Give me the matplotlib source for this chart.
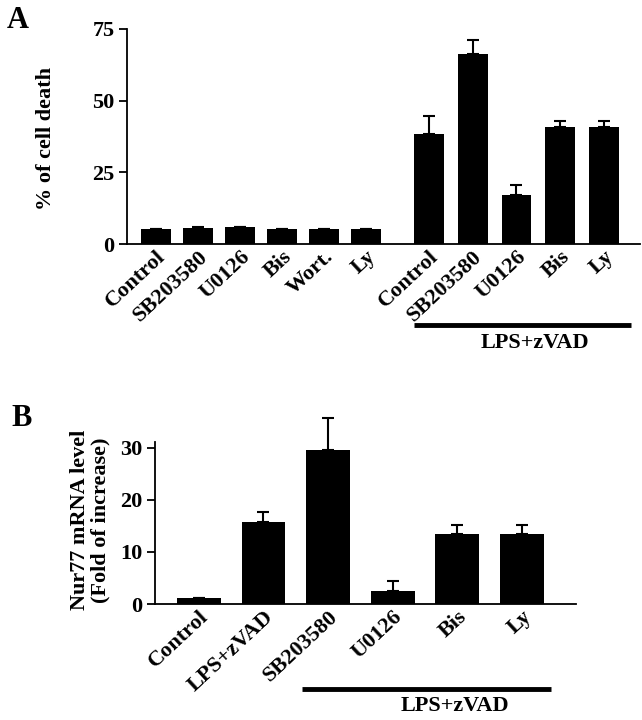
import matplotlib
matplotlib.use("Agg")
import matplotlib.pyplot as plt
import numpy as np

plt.rcParams['font.family'] = ['Liberation Serif', 'DejaVu Serif']
plt.rcParams['font.weight'] = 'bold'

# panel A data
labels_a = ['Control', 'SB203580', 'U0126', 'Bis', 'Wort.', 'Ly',
            'Control', 'SB203580', 'U0126', 'Bis', 'Ly']
death = [5.2, 5.7, 5.8, 5.1, 5.2, 5.3, 38.4, 66.2, 17.1, 40.8, 40.8]
death_err = [0.2, 0.2, 0.2, 0.1, 0.1, 0.1, 6.3, 5.1, 3.4, 2.2, 2.2]

# panel B data
labels_b = ['Control', 'LPS+zVAD', 'SB203580', 'U0126', 'Bis', 'Ly']
nur77 = [1.2, 15.8, 29.6, 2.4, 13.5, 13.5]
nur77_err = [0.0, 1.8, 6.2, 2.0, 1.7, 1.7]

fig = plt.figure(figsize=(6.42, 7.2), dpi=100)
W, H = 642.0, 720.0

def box(x0, y0, x1, y1):
    # pixel box (top-left origin) -> figure fraction
    return [x0 / W, 1 - y1 / H, (x1 - x0) / W, (y1 - y0) / H]

def style(ax):
    for s in ['top', 'right']:
        ax.spines[s].set_visible(False)
    for s in ['left', 'bottom']:
        ax.spines[s].set_linewidth(1.3)
    ax.tick_params(axis='y', direction='out', length=6, width=1.3, labelsize=16, pad=3)
    ax.tick_params(axis='x', length=0, labelsize=16, pad=2)

# ---- A ----
ax1 = fig.add_axes(box(127, 29, 640, 244))
xa = np.concatenate([np.arange(6), 6.5 + 1.04 * np.arange(5)])
ax1.bar(xa, death, width=0.71, color='black')
ax1.errorbar(xa, death, yerr=[np.zeros(len(death)), death_err], fmt='none',
             ecolor='black', elinewidth=1.5, capsize=4.3, capthick=1.5, clip_on=False)
ax1.set_xlim(-0.69, 11.52)
ax1.set_ylim(0, 75)
ax1.set_yticks([0, 25, 50, 75])
ax1.set_xticks(xa)
ax1.set_xticklabels(labels_a, rotation=43, ha='right', va='top', rotation_mode='anchor')
style(ax1)
fig.text(46 / W, 1 - 139 / H, '% of cell death', rotation=90, fontsize=16,
         ha='center', va='center')
tr1 = ax1.get_xaxis_transform()
ax1.plot([6.14, 11.31], [-0.376, -0.376], color='black', lw=3.5, transform=tr1,
         clip_on=False, solid_capstyle='butt')
ax1.text(9.02, -0.46, 'LPS+zVAD', transform=tr1, ha='center', va='center', fontsize=16)
fig.text(18 / W, 1 - 21 / H, 'A', fontsize=22, ha='center', va='center')

# ---- B ----
ax2 = fig.add_axes(box(155, 442, 576, 604))
xb = np.arange(len(nur77))
ax2.bar(xb, nur77, width=0.68, color='black')
ax2.errorbar(xb, nur77, yerr=[np.zeros(len(nur77)), nur77_err], fmt='none',
             ecolor='black', elinewidth=1.5, capsize=4.3, capthick=1.5, clip_on=False)
ax2.set_xlim(-0.68, 5.84)
ax2.set_ylim(0, 31.1)
ax2.set_yticks([0, 10, 20, 30])
ax2.set_xticks(xb)
ax2.set_xticklabels(labels_b, rotation=43, ha='right', va='top', rotation_mode='anchor')
style(ax2)
fig.text(90 / W, 1 - 520 / H, 'Nur77 mRNA level\n(Fold of increase)', rotation=90,
         fontsize=16, ha='center', va='center', linespacing=1.05, multialignment='center')
tr2 = ax2.get_xaxis_transform()
ax2.plot([1.59, 5.45], [-0.525, -0.525], color='black', lw=3.5, transform=tr2,
         clip_on=False, solid_capstyle='butt')
ax2.text(3.96, -0.63, 'LPS+zVAD', transform=tr2, ha='center', va='center', fontsize=16)
fig.text(22 / W, 1 - 418 / H, 'B', fontsize=22, ha='center', va='center')

fig.savefig('out.png', dpi=100)
